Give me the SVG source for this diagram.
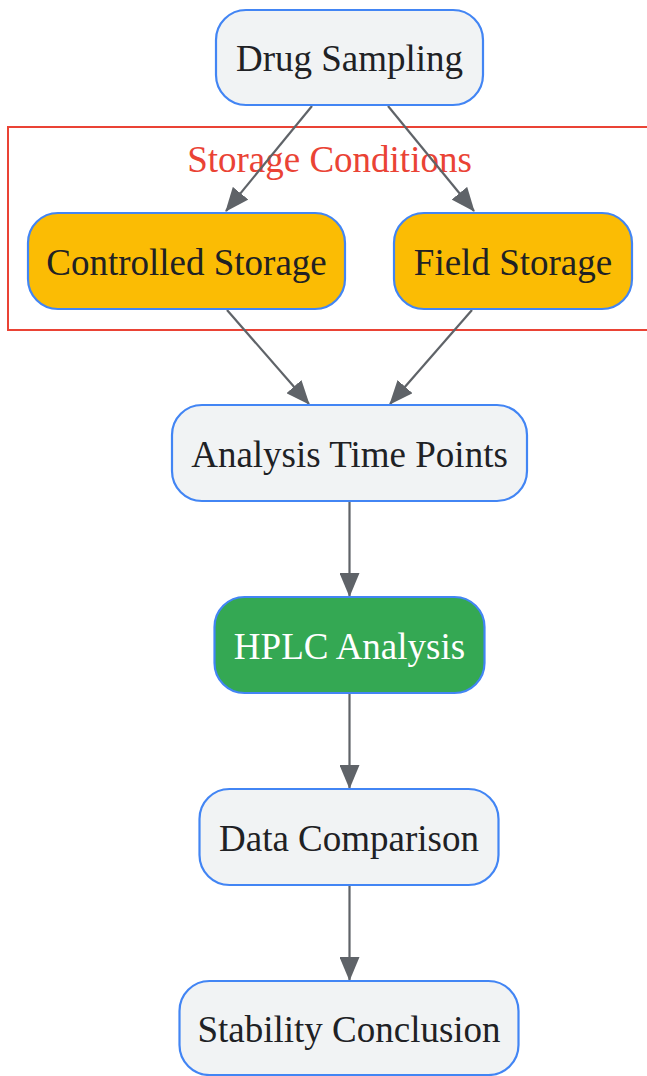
<svg xmlns="http://www.w3.org/2000/svg" width="647" height="1076" viewBox="0 0 647 1076">
<defs>
<style>
.node rect{stroke:#4285f4;stroke-width:2.2}
.def rect{fill:#f1f3f4}
.yel rect{fill:#fbbc04}
.grn rect{fill:#34a853}
text{font-family:"Liberation Serif","Times New Roman",serif;font-size:37px;text-anchor:middle}
.node text{fill:#202124}
.grn text{fill:#ffffff}
.edge{fill:none;stroke:#5f6368;stroke-width:2.2}
</style>
<marker id="arrow" viewBox="0 0 24 20" refX="23" refY="10" markerWidth="24" markerHeight="20" markerUnits="userSpaceOnUse" orient="auto">
<path d="M0,0 L24,10 L0,20 z" fill="#5f6368"/>
</marker>
</defs>
<rect width="647" height="1076" fill="#ffffff"/>
<g id="cluster-storage">
<rect x="8" y="127" width="643" height="203" fill="none" stroke="#ea4335" stroke-width="2"/>
<text x="329.5" y="172" fill="#ea4335">Storage Conditions</text>
</g>
<g id="connectors">
<path class="edge" d="M312,106 L226,211" marker-end="url(#arrow)"/>
<path class="edge" d="M388,106 L474,211" marker-end="url(#arrow)"/>
<path class="edge" d="M227,310 L309,404" marker-end="url(#arrow)"/>
<path class="edge" d="M472,310 L390,404" marker-end="url(#arrow)"/>
<path class="edge" d="M349.5,502 L349.5,596" marker-end="url(#arrow)"/>
<path class="edge" d="M349.5,694 L349.5,788" marker-end="url(#arrow)"/>
<path class="edge" d="M349.5,886 L349.5,980" marker-end="url(#arrow)"/>
</g>
<g id="drug-sampling" class="node def">
<rect x="216" y="10" width="267" height="95" rx="30" ry="30"/>
<text x="349.5" y="71">Drug Sampling</text>
</g>
<g id="controlled-storage" class="node yel">
<rect x="28" y="213" width="317" height="96" rx="30" ry="30"/>
<text x="186.5" y="275">Controlled Storage</text>
</g>
<g id="field-storage" class="node yel">
<rect x="394" y="213" width="238" height="96" rx="30" ry="30"/>
<text x="513" y="275">Field Storage</text>
</g>
<g id="analysis-time-points" class="node def">
<rect x="172" y="405" width="355" height="96" rx="30" ry="30"/>
<text x="349.5" y="467">Analysis Time Points</text>
</g>
<g id="hplc-analysis" class="node grn">
<rect x="214.5" y="597" width="270" height="96" rx="30" ry="30"/>
<text x="349.5" y="659">HPLC Analysis</text>
</g>
<g id="data-comparison" class="node def">
<rect x="199.5" y="789" width="299" height="96" rx="30" ry="30"/>
<text x="349" y="851">Data Comparison</text>
</g>
<g id="stability-conclusion" class="node def">
<rect x="179.5" y="981" width="339" height="94" rx="30" ry="30"/>
<text x="349" y="1042">Stability Conclusion</text>
</g>
</svg>
